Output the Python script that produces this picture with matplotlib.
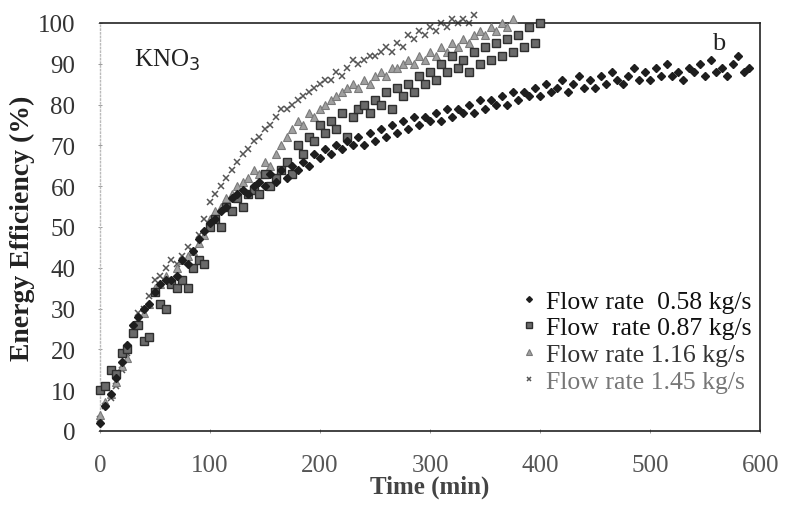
import matplotlib
matplotlib.use("Agg")
import matplotlib.pyplot as plt

# Data (Time in min, Energy Efficiency in %)
t058 = [0, 5, 10, 15, 20, 25, 30, 35, 40, 45, 50, 55, 60, 65, 70, 75, 80, 85, 90, 95,
        100, 105, 110, 115, 120, 125, 130, 135, 140, 145, 150, 155, 160, 165, 170, 175, 180, 185, 190, 195,
        200, 205, 210, 215, 220, 225, 230, 235, 240, 245, 250, 255, 260, 265, 270, 275, 280, 285, 290, 295,
        300, 305, 310, 315, 320, 325, 330, 335, 340, 345, 350, 355, 360, 365, 370, 375, 380, 385, 390, 395,
        400, 405, 410, 415, 420, 425, 430, 435, 440, 445, 450, 455, 460, 465, 470, 475, 480, 485, 490, 495,
        500, 505, 510, 515, 520, 525, 530, 535, 540, 545, 550, 555, 560, 565, 570, 575, 580, 585, 590]
e058 = [2, 6, 9, 13, 17, 21, 26, 28, 30, 31, 34, 36, 37, 37, 38, 42, 41, 44, 47, 49,
        51, 52, 54, 55, 57, 58, 59, 58, 60, 61, 60, 63, 61, 64, 62, 65, 64, 66, 65, 68,
        67, 69, 68, 70, 69, 71, 70, 72, 70, 73, 71, 74, 72, 75, 73, 76, 74, 77, 75, 77,
        76, 78, 76, 79, 77, 79, 78, 80, 78, 81, 79, 81, 80, 82, 80, 83, 81, 83, 82, 84,
        82, 85, 83, 84, 86, 83, 85, 87, 84, 86, 84, 87, 85, 88, 86, 85, 87, 89, 86, 88,
        86, 89, 87, 90, 87, 88, 86, 89, 88, 90, 87, 91, 88, 89, 87, 90, 92, 88, 89]

t087 = [0, 5, 10, 15, 20, 25, 30, 35, 40, 45, 50, 55, 60, 65, 70, 75, 80, 85, 90, 95,
        100, 105, 110, 115, 120, 125, 130, 135, 140, 145, 150, 155, 160, 165, 170, 175, 180, 185, 190, 195,
        200, 205, 210, 215, 220, 225, 230, 235, 240, 245, 250, 255, 260, 265, 270, 275, 280, 285, 290, 295,
        300, 305, 310, 315, 320, 325, 330, 335, 340, 345, 350, 355, 360, 365, 370, 375, 380, 385, 390, 395, 400]
e087 = [10, 11, 15, 14, 19, 20, 24, 26, 22, 23, 34, 31, 30, 36, 35, 37, 35, 40, 42, 41,
        50, 52, 50, 55, 54, 57, 55, 58, 59, 58, 63, 60, 62, 64, 66, 63, 70, 68, 72, 71,
        75, 73, 76, 74, 78, 72, 77, 79, 80, 78, 81, 80, 83, 79, 84, 82, 85, 83, 87, 85,
        88, 86, 90, 88, 92, 89, 91, 88, 93, 90, 94, 91, 95, 92, 96, 93, 97, 94, 99, 95, 100]

t116 = [0, 5, 10, 15, 20, 25, 30, 35, 40, 45, 50, 55, 60, 65, 70, 75, 80, 85, 90, 95,
        100, 105, 110, 115, 120, 125, 130, 135, 140, 145, 150, 155, 160, 165, 170, 175, 180, 185, 190, 195,
        200, 205, 210, 215, 220, 225, 230, 235, 240, 245, 250, 255, 260, 265, 270, 275, 280, 285, 290, 295,
        300, 305, 310, 315, 320, 325, 330, 335, 340, 345, 350, 355, 360, 365, 370, 375]
e116 = [4, 7, 9, 12, 16, 18, 24, 27, 29, 31, 35, 36, 38, 37, 40, 42, 43, 44, 46, 48,
        52, 54, 55, 57, 58, 60, 61, 62, 64, 63, 66, 65, 68, 70, 72, 74, 76, 75, 78, 77,
        79, 80, 81, 82, 83, 84, 85, 84, 86, 85, 87, 88, 87, 89, 89, 90, 91, 90, 92, 91,
        93, 92, 94, 93, 95, 94, 96, 95, 97, 98, 97, 99, 98, 100, 99, 101]

t145 = [0, 5, 10, 15, 20, 25, 30, 35, 40, 45, 50, 55, 60, 65, 70, 75, 80, 85, 90, 95,
        100, 105, 110, 115, 120, 125, 130, 135, 140, 145, 150, 155, 160, 165, 170, 175, 180, 185, 190, 195,
        200, 205, 210, 215, 220, 225, 230, 235, 240, 245, 250, 255, 260, 265, 270, 275, 280, 285, 290, 295,
        300, 305, 310, 315, 320, 325, 330, 335, 340]
e145 = [3, 6, 8, 11, 15, 19, 25, 29, 30, 33, 37, 38, 40, 42, 41, 43, 45, 44, 48, 52,
        56, 58, 60, 62, 64, 66, 68, 69, 71, 72, 74, 75, 77, 79, 79, 80, 81, 82, 83, 84,
        85, 86, 86, 88, 87, 89, 91, 90, 91, 92, 92, 93, 94, 93, 95, 94, 97, 96, 98, 97,
        99, 98, 100, 99, 101, 100, 101, 100, 102]

labels = ["Flow rate  0.58 kg/s", "Flow  rate 0.87 kg/s", "Flow rate 1.16 kg/s", "Flow rate 1.45 kg/s"]
xticks = [0, 100, 200, 300, 400, 500, 600]
yticks = [0, 10, 20, 30, 40, 50, 60, 70, 80, 90, 100]

plt.rcParams['font.family'] = ['Liberation Serif', 'DejaVu Serif']

fig = plt.figure(figsize=(7.92, 5.10), dpi=100)
ax = fig.add_axes([0.126, 0.153, 0.834, 0.800])

ax.plot(t058, e058, 'D', ms=4.2, color='#1e1e1e', mec='#1e1e1e', label=labels[0], clip_on=False, zorder=5)
ax.plot(t087, e087, 's', ms=6, color='#6a6a6a', mec='#2e2e2e', mew=1.0, label=labels[1], clip_on=False, zorder=4)
ax.plot(t116, e116, '^', ms=5.5, color='#a0a0a0', mec='#7a7a7a', mew=0.8, label=labels[2], clip_on=False, zorder=3)
ax.plot(t145, e145, 'x', ms=5, color='#555555', mew=1.1, label=labels[3], clip_on=False, zorder=2)

ax.set_xlim(0, 600)
ax.set_ylim(0, 100)
ax.set_xticks(xticks)
ax.set_yticks(yticks)
ax.tick_params(axis='both', direction='inout', length=3, width=0.6, color='#888888',
               labelsize=18)
ax.tick_params(axis='x', pad=15, labelcolor='#555555')
ax.tick_params(axis='y', pad=16, labelcolor='#333333')

for side in ['top', 'right', 'bottom']:
    ax.spines[side].set_color('#222222')
    ax.spines[side].set_linewidth(1.2)
ax.spines['left'].set_color('#bbbbbb')
ax.spines['left'].set_linestyle(':')
ax.spines['left'].set_linewidth(1.0)

ax.set_xlabel('Time (min)', fontsize=18, fontweight='bold', color='#444444', labelpad=-1)
ax.set_ylabel('Energy Efficiency (%)', fontsize=20, fontweight='bold', color='#222222', labelpad=2)

ax.text(31, 91, 'KNO$_3$', fontsize=18, color='#222222', ha='left', va='center')
ax.text(556, 95, 'b', fontsize=19, color='#222222', ha='left', va='center')

leg = ax.legend(loc='lower right', bbox_to_anchor=(1.01, 0.055), frameon=False, fontsize=18.5,
                handlelength=0.5, handletextpad=0.4, labelspacing=0.15, markerscale=0.7,
                borderaxespad=0.2)
for txt, col in zip(leg.get_texts(), ['#111111', '#111111', '#333333', '#777777']):
    txt.set_color(col)

fig.savefig('out.png', dpi=100)
